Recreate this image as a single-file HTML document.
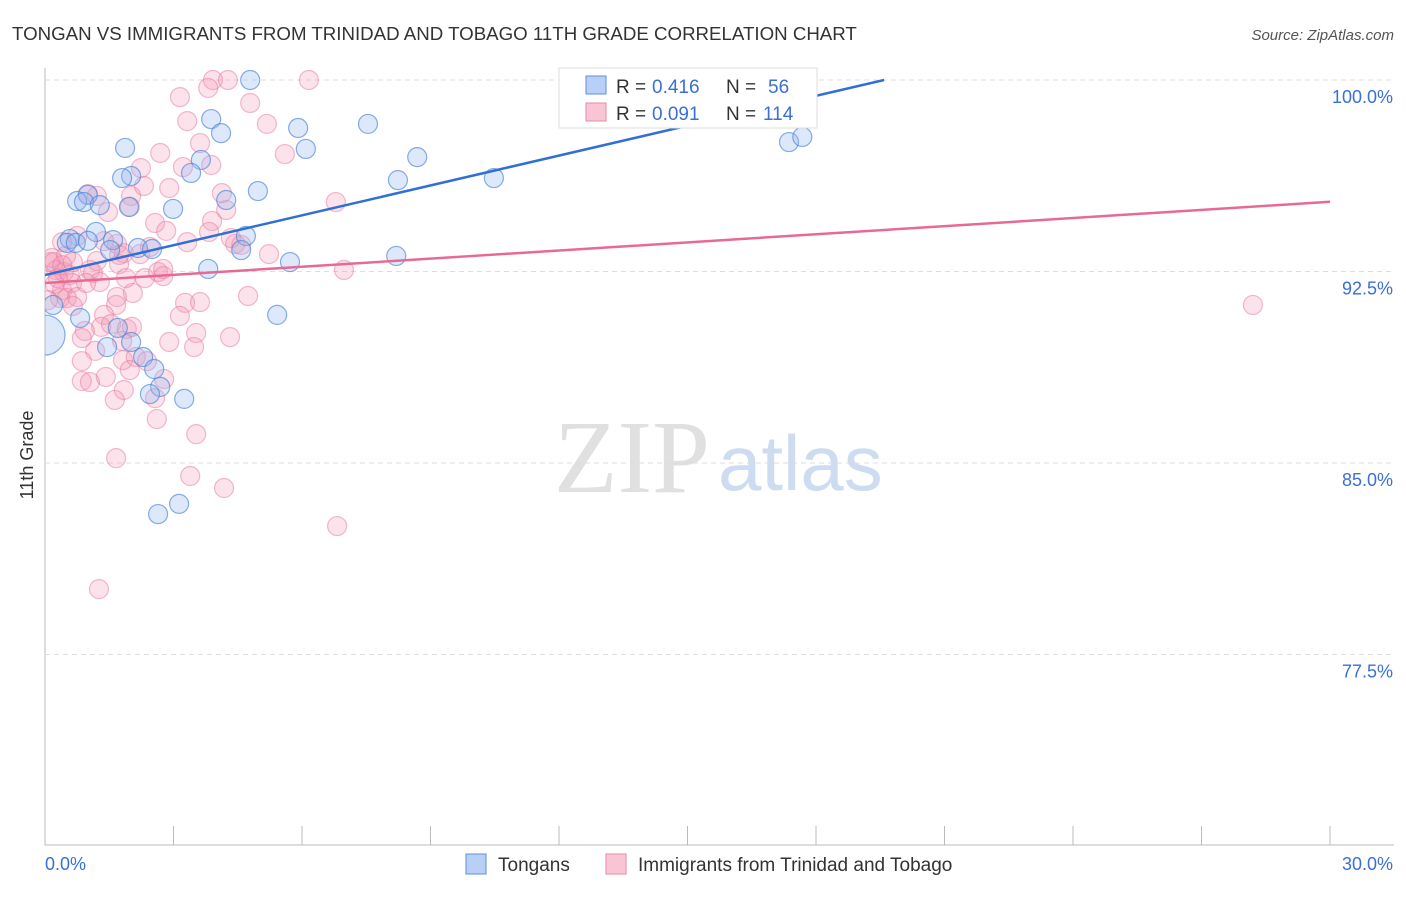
<!DOCTYPE html>
<html><head><meta charset="utf-8"><style>
body{margin:0;background:#fff;font-family:"Liberation Sans",sans-serif;}
</style></head><body>
<svg id="c" width="1406" height="892" xmlns="http://www.w3.org/2000/svg">
<defs><clipPath id="plot"><rect x="45" y="60" width="1360" height="785"/></clipPath></defs>
<text x="12" y="40" font-size="18.7" fill="#333">TONGAN VS IMMIGRANTS FROM TRINIDAD AND TOBAGO 11TH GRADE CORRELATION CHART</text>
<text x="1394" y="40" font-size="15" fill="#555" font-style="italic" text-anchor="end">Source: ZipAtlas.com</text>
<text x="554" y="492" font-size="104" fill="#e0e0e0" font-family="Liberation Serif,serif">ZIP</text>
<text x="718" y="490" font-size="78" fill="#cddcf0">atlas</text>
<text x="33" y="455" font-size="18" fill="#333" transform="rotate(-90 33 455)" text-anchor="middle">11th Grade</text>
<g id="grid"></g><g id="pts" clip-path="url(#plot)"></g><g id="lines"></g>
<g>
<rect x="559" y="68" width="258" height="60" fill="#fff" stroke="#ddd"/>
<rect x="586" y="76" width="20" height="18" fill="#b8d0f5" stroke="#5b8ee0"/>
<text x="616" y="93" font-size="19" fill="#333">R =</text>
<text x="652" y="93" font-size="19" fill="#3a6fd8">0.416</text>
<text x="726" y="93" font-size="19" fill="#333">N =</text>
<text x="768" y="93" font-size="19" fill="#3a6fd8">56</text>
<rect x="586" y="103" width="20" height="18" fill="#f9c5d5" stroke="#e88aa8"/>
<text x="616" y="120" font-size="19" fill="#333">R =</text>
<text x="652" y="120" font-size="19" fill="#3a6fd8">0.091</text>
<text x="726" y="120" font-size="19" fill="#333">N =</text>
<text x="763" y="120" font-size="19" fill="#3a6fd8">114</text>
</g>
<g>
<rect x="466" y="854" width="20" height="20" fill="#b8d0f5" stroke="#5b8ee0"/>
<text x="498" y="871" font-size="19" fill="#333">Tongans</text>
<rect x="606" y="854" width="20" height="20" fill="#f9c5d5" stroke="#e88aa8"/>
<text x="638" y="871" font-size="19" fill="#333">Immigrants from Trinidad and Tobago</text>
</g>
</svg>
<script>
const yTicks=[100,92.5,85,77.5];
const yTickLabels=["100.0%","92.5%","85.0%","77.5%"];
const xTickLabels=["0.0%","30.0%"];
const blueX=[4.79,3.88,4.11,5.91,7.54,1.87,6.09,3.64,8.69,3.41,2.01,1.80,8.24,10.48,4.97,4.23,1.00,0.75,0.91,1.28,1.96,2.99,1.19,0.58,0.51,0.72,1.00,1.59,1.52,2.17,2.50,4.69,4.58,3.81,5.72,8.20,5.42,0.82,1.70,2.01,1.45,2.29,2.55,2.69,2.45,3.25,2.64,3.13,17.37,17.68,12.28,0.19,0.0];
const blueY=[100,98.47,97.92,98.12,98.28,97.34,97.30,96.87,96.98,96.36,96.24,96.16,96.08,96.16,95.65,95.30,95.50,95.26,95.22,95.10,95.03,94.95,94.05,93.77,93.62,93.62,93.70,93.73,93.34,93.42,93.38,93.89,93.34,92.60,92.87,93.11,90.80,90.68,90.29,89.74,89.54,89.15,88.68,87.98,87.70,87.51,83.00,83.40,97.57,97.77,99.45,91.19,90.01];
const pinkX=[3.92,4.27,6.16,3.15,3.81,4.79,3.32,5.18,3.62,5.60,2.69,2.24,3.22,3.88,1.00,1.21,2.01,2.31,2.90,1.47,1.98,4.23,4.13,6.79,2.57,3.90,2.83,3.83,0.75,0.40,1.68,1.38,1.84,4.44,3.32,5.23,4.58,0.16,0.26,0.44,0.23,0.40,0.58,0.63,1.05,1.12,1.28,1.73,1.89,2.33,2.64,2.76,6.98,0.35,0.51,0.75,0.65,1.68,1.66,2.05,3.27,3.62,4.74,3.15,1.38,1.31,1.54,1.91,2.03,0.93,0.86,3.53,4.32,2.90,3.48,1.17,1.80,0.86,1.82,2.12,2.38,0.86,1.05,1.42,1.98,2.78,1.84,1.63,2.57,2.61,3.53,1.66,3.39,4.18,6.82,1.26,28.20,0.12,0.21,0.30,0.07,0.49,0.96,1.73,2.22,2.76,4.34,1.21,0.65,2.45,0.40];
const pinkY=[100,100,100,99.33,99.69,99.10,98.39,98.28,97.53,97.10,97.14,96.55,96.59,96.67,95.53,95.46,95.46,95.85,95.77,94.83,95.03,94.91,95.57,95.22,94.40,94.48,94.09,94.05,93.89,93.65,93.58,93.69,93.22,93.58,93.65,93.18,93.54,93.03,92.56,92.48,92.01,91.77,92.36,92.05,92.56,92.44,92.09,92.79,92.24,92.24,92.48,92.32,92.56,91.46,91.46,91.50,91.15,91.50,91.19,91.66,91.27,91.30,91.54,90.76,90.80,90.33,90.44,90.25,90.33,90.17,89.89,90.09,89.93,89.74,89.54,89.39,89.78,88.99,89.03,89.15,88.99,88.21,88.17,88.37,88.64,88.29,87.86,87.47,87.54,86.72,86.13,85.19,84.49,84.02,82.53,80.06,91.19,92.87,92.87,92.24,91.38,93.11,92.05,93.15,93.18,92.60,93.81,92.91,92.87,93.46,92.75];
const blueFit=[92.36,0.39];
const pinkFit=[92.05,0.106];
const X=v=>45+v/30*1285;
const Y=v=>80+(100-v)/7.5*191.5;
const NS="http://www.w3.org/2000/svg";
function mk(tag,attrs,parent){const e=document.createElementNS(NS,tag);for(const k in attrs)e.setAttribute(k,attrs[k]);parent.appendChild(e);return e;}
const g=document.getElementById('grid');
let ax=mk('line',{x1:45,y1:68,x2:45,y2:845,stroke:'#bbb'},g);


let bx=mk('line',{x1:45,y1:845,x2:1394,y2:845,stroke:'#bbb'},g);


yTicks.forEach((t,i)=>{
 const l=mk('line',{x1:45,x2:1394,y1:Y(t),y2:Y(t),stroke:'#ddd','stroke-dasharray':'5,4'},g);
 
 
 const tx=mk('text',{x:1393,y:Y(t)+23,'font-size':18,fill:'#3a6fd8','text-anchor':'end'},g);
 tx.textContent=yTickLabels[i];
 
 
});
for(let i=0;i<=10;i++){
 const l=mk('line',{x1:X(i*3),x2:X(i*3),y1:826,y2:845,stroke:'#bbb'},g);
 
 
}
xTickLabels.forEach((s,i)=>{
 const tx=mk('text',{x:i?1393:45,y:870,'font-size':18,fill:'#3a6fd8','text-anchor':i?'end':'start'},g);
 tx.textContent=s;
 
 
});
const p=document.getElementById('pts');
pinkX.forEach((x,i)=>{
 const c=mk('circle',{cx:X(x),cy:Y(pinkY[i]),r:9.5,fill:'rgba(244,150,180,0.28)',stroke:'rgba(232,120,160,0.5)','stroke-width':1.2},p);
 
 
});
blueX.forEach((x,i)=>{
 const c=mk('circle',{cx:X(x),cy:Y(blueY[i]),r:i==blueX.length-1?20:9.5,fill:'rgba(150,185,240,0.32)',stroke:'rgba(70,130,220,0.65)','stroke-width':1.2},p);
 
 
});
const L=document.getElementById('lines');
const bEnd=(100-blueFit[0])/blueFit[1];
let bl=mk('line',{x1:X(0),y1:Y(blueFit[0]),x2:X(bEnd),y2:Y(100),stroke:'#2f6fd6','stroke-width':2.5},L);


let pl=mk('line',{x1:X(0),y1:Y(pinkFit[0]),x2:X(30),y2:Y(pinkFit[0]+30*pinkFit[1]),stroke:'#e86a94','stroke-width':2.5},L);


</script>
</body></html>
